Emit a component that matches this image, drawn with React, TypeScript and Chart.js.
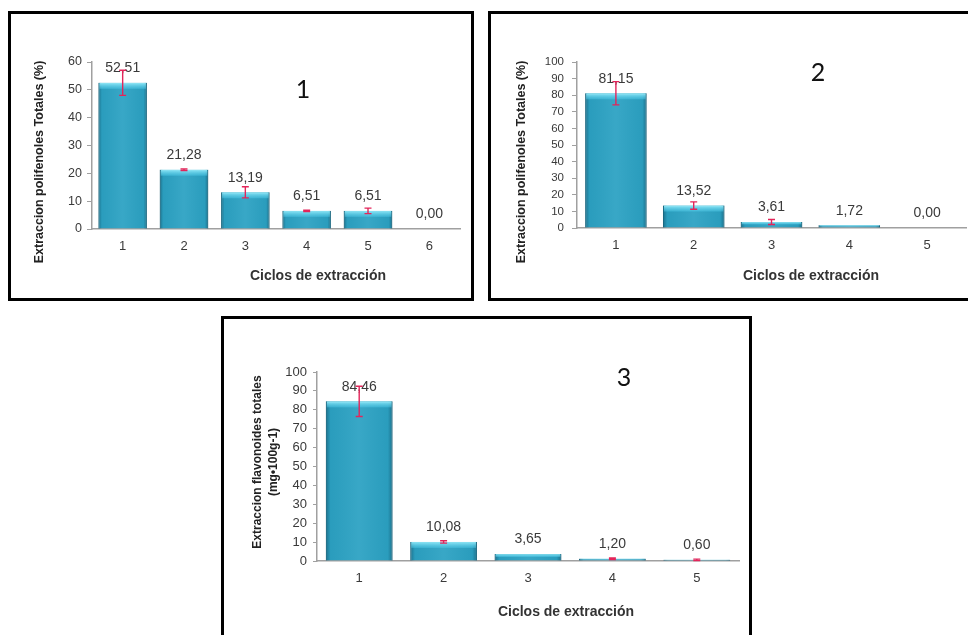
import React, { useEffect, useRef } from "react";
import { Chart, registerables } from "chart.js";
Chart.register(...registerables);

// ---------- data ----------
const cycles1 = ["1", "2", "3", "4", "5", "6"];
const values1 = [52.51, 21.28, 13.19, 6.51, 6.51, 0.0];
const errors1 = [4.5, 0.3, 2.0, 0.2, 1.0, 0];
const yTitle1 = ["Extraccion polifenoles Totales (%)"];
const yMax1 = 60;

const cycles2 = ["1", "2", "3", "4", "5"];
const values2 = [81.15, 13.52, 3.61, 1.72, 0.0];
const errors2 = [7.0, 2.2, 1.5, 0, 0];
const yTitle2 = ["Extraccion polifenoles Totales (%)"];
const yMax2 = 100;

const cycles3 = ["1", "2", "3", "4", "5"];
const values3 = [84.46, 10.08, 3.65, 1.2, 0.6];
const errors3 = [8.0, 0.6, 0, 0.4, 0.4];
const yTitle3 = ["Extraccion flavonoides totales", "(mg\u2022100g-1)"];
const yMax3 = 100;

const xTitle = "Ciclos de extracci\u00f3n";
const panelNames = ["1", "2", "3"];

const FONT = "'Liberation Sans', Arial, sans-serif";
const fmt = (v: number) => v.toFixed(2).replace(".", ",");

type PanelCfg = {
  box: { left: number; top: number; width: number; height: number };
  cw: number; ch: number;
  area: { left: number; right: number; top: number; bottom: number };
  cats: string[]; vals: number[]; errs: number[]; yTitle: string[]; yMax: number;
  yFont: number; yTickLen: number; yPad: number; yTitleFont: number;
  yTitlePos: { x: number[]; y: number };
  xTitlePos: { x: number; y: number };
  name: string; namePos: { x: number; y: number };
};

const panels: PanelCfg[] = [
  {
    box: { left: 8, top: 11, width: 466, height: 290 }, cw: 460, ch: 284,
    area: { left: 81, right: 449, top: 48, bottom: 215 },
    cats: cycles1, vals: values1, errs: errors1, yTitle: yTitle1, yMax: yMax1,
    yFont: 12.5, yTickLen: 5, yPad: 5, yTitleFont: 12.5,
    yTitlePos: { x: [29], y: 148 }, xTitlePos: { x: 307, y: 262 },
    name: panelNames[0], namePos: { x: 292, y: 76 },
  },
  {
    box: { left: 488, top: 11, width: 500, height: 290 }, cw: 477, ch: 284,
    area: { left: 86, right: 475, top: 48, bottom: 214 },
    cats: cycles2, vals: values2, errs: errors2, yTitle: yTitle2, yMax: yMax2,
    yFont: 11.5, yTickLen: 5, yPad: 8, yTitleFont: 12.5,
    yTitlePos: { x: [31], y: 148 }, xTitlePos: { x: 320, y: 262 },
    name: panelNames[1], namePos: { x: 327, y: 59 },
  },
  {
    box: { left: 221, top: 316, width: 531, height: 330 }, cw: 525, ch: 316,
    area: { left: 93, right: 515, top: 53, bottom: 242 },
    cats: cycles3, vals: values3, errs: errors3, yTitle: yTitle3, yMax: yMax3,
    yFont: 13, yTickLen: 4, yPad: 6, yTitleFont: 12,
    yTitlePos: { x: [34, 50], y: 143 }, xTitlePos: { x: 342, y: 293 },
    name: panelNames[2], namePos: { x: 400, y: 59 },
  },
];

function makePlugin(p: PanelCfg) {
  return {
    id: "decor",
    afterDatasetsDraw(chart: any) {
      const ctx = chart.ctx as CanvasRenderingContext2D;
      const meta = chart.getDatasetMeta(0);
      const ys = chart.scales.y;
      ctx.save();
      meta.data.forEach((bar: any) => {
        const { x, y, base, width } = bar.getProps(["x", "y", "base", "width"], true);
        const h = base - y;
        if (h < 0.5) return;
        const left = x - width / 2;
        const g = ctx.createLinearGradient(left, 0, left + width, 0);
        g.addColorStop(0, "rgba(8,55,75,0.45)");
        g.addColorStop(0.07, "rgba(8,55,75,0.05)");
        g.addColorStop(0.5, "rgba(255,255,255,0.06)");
        g.addColorStop(0.93, "rgba(8,55,75,0.05)");
        g.addColorStop(1, "rgba(8,55,75,0.45)");
        ctx.fillStyle = g;
        ctx.fillRect(left, y, width, h);
        const th = Math.min(6, h * 0.45);
        const g2 = ctx.createLinearGradient(0, y, 0, y + th);
        g2.addColorStop(0, "rgba(150,235,250,0.95)");
        g2.addColorStop(1, "rgba(80,205,235,0.4)");
        ctx.fillStyle = g2;
        ctx.fillRect(left + 1, y, width - 2, th);
      });
      // value labels
      ctx.fillStyle = "#3a3a3a";
      ctx.font = `14px ${FONT}`;
      ctx.textAlign = "center";
      ctx.textBaseline = "middle";
      meta.data.forEach((bar: any, i: number) => {
        const yy = ys.getPixelForValue(p.vals[i]);
        ctx.fillText(fmt(p.vals[i]), bar.x, yy - 14.5);
      });
      // error bars
      ctx.strokeStyle = "#e3255a";
      ctx.lineWidth = 1.4;
      meta.data.forEach((bar: any, i: number) => {
        const e = p.errs[i];
        if (!e) return;
        const y1 = ys.getPixelForValue(p.vals[i] + e);
        const y2 = ys.getPixelForValue(Math.max(0, p.vals[i] - e));
        const x = bar.x;
        ctx.beginPath();
        ctx.moveTo(x, y1); ctx.lineTo(x, y2);
        ctx.moveTo(x - 3.5, y1); ctx.lineTo(x + 3.5, y1);
        ctx.moveTo(x - 3.5, y2); ctx.lineTo(x + 3.5, y2);
        ctx.stroke();
      });
      ctx.restore();
    },
    afterDraw(chart: any) {
      const ctx = chart.ctx as CanvasRenderingContext2D;
      ctx.save();
      // y title
      ctx.fillStyle = "#222";
      ctx.font = `bold ${p.yTitleFont}px ${FONT}`;
      ctx.textAlign = "center";
      ctx.textBaseline = "middle";
      p.yTitle.forEach((t, k) => {
        ctx.save();
        ctx.translate(p.yTitlePos.x[k], p.yTitlePos.y);
        ctx.rotate(-Math.PI / 2);
        ctx.fillText(t, 0, 0);
        ctx.restore();
      });
      // x title
      ctx.fillStyle = "#333";
      ctx.font = `bold 14px ${FONT}`;
      ctx.fillText(xTitle, p.xTitlePos.x, p.xTitlePos.y);
      // panel number
      ctx.fillStyle = "#111";
      ctx.font = `25px Lato, ${FONT}`;
      ctx.fillText(p.name, p.namePos.x, p.namePos.y);
      ctx.restore();
    },
  };
}

function Panel({ p }: { p: PanelCfg }) {
  const ref = useRef<HTMLCanvasElement>(null);
  useEffect(() => {
    if (!ref.current) return;
    const chart = new Chart(ref.current, {
      type: "bar",
      data: {
        labels: p.cats,
        datasets: [
          {
            data: p.vals,
            backgroundColor: "#2ca2c3",
            borderColor: "#1f86a3",
            borderWidth: 1,
            barPercentage: 0.79,
            categoryPercentage: 1,
          },
        ],
      },
      options: {
        responsive: false,
        animation: false,
        devicePixelRatio: 1,
        layout: { padding: { left: 0, right: p.cw - p.area.right, top: p.area.top, bottom: 0 } },
        plugins: { legend: { display: false }, tooltip: { enabled: false }, title: { display: false } },
        scales: {
          x: {
            grid: { display: false, drawTicks: false, tickLength: 0 },
            border: { display: true, color: "#a0a0a0", width: 1.5 },
            ticks: { color: "#3a3a3a", font: { family: FONT, size: 13 }, padding: 10, maxRotation: 0 },
            afterFit: (s: any) => { s.height = p.ch - p.area.bottom; },
          },
          y: {
            min: 0,
            max: p.yMax,
            grid: { display: true, drawOnChartArea: false, drawTicks: true, tickLength: p.yTickLen, color: "#a0a0a0" },
            border: { display: true, color: "#a0a0a0", width: 1.5 },
            ticks: { stepSize: 10, autoSkip: false, color: "#3a3a3a", font: { family: FONT, size: p.yFont }, padding: p.yPad },
            afterFit: (s: any) => { s.width = p.area.left; },
          },
        },
      },
      plugins: [makePlugin(p)],
    } as any);
    return () => chart.destroy();
  }, []);
  return (
    <div
      style={{
        position: "absolute",
        left: p.box.left,
        top: p.box.top,
        width: p.box.width,
        height: p.box.height,
        border: "3px solid #000",
        boxSizing: "border-box",
        background: "#fff",
      }}
    >
      <canvas ref={ref} width={p.cw} height={p.ch} style={{ display: "block", width: p.cw, height: p.ch }} />
    </div>
  );
}

export default function App() {
  return (
    <div
      style={{
        position: "absolute",
        left: 0,
        top: 0,
        width: 968,
        height: 635,
        overflow: "hidden",
        background: "#fff",
      }}
    >
      {panels.map((p, i) => (
        <Panel key={i} p={p} />
      ))}
    </div>
  );
}
